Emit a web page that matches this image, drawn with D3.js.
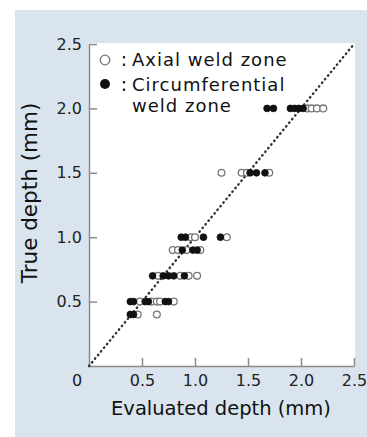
<!DOCTYPE html>
<html>
<head>
<meta charset="utf-8">
<script src="https://cdn.jsdelivr.net/npm/d3@7"></script>
<style>
  html, body { margin: 0; padding: 0; background: #ffffff; }
  svg { display: block; }
  text { font-family: "DejaVu Sans", sans-serif; }
</style>
</head>
<body>
<svg id="chart" width="367" height="437"></svg>
<script>
// ---- data ----
const tickValues = [0.5, 1.0, 1.5, 2.0, 2.5];
const axialEvaluated = [2.06, 2.10, 2.15, 2.21, 1.25, 1.44, 1.49, 1.70, 0.96, 1.00, 1.30, 0.79, 0.84, 0.92, 1.05, 0.65, 0.86, 0.94, 1.02, 0.48, 0.59, 0.64, 0.67, 0.80, 0.46, 0.64];
const axialTrue      = [2.0, 2.0, 2.0, 2.0, 1.5, 1.5, 1.5, 1.5, 1.0, 1.0, 1.0, 0.9, 0.9, 0.9, 0.9, 0.7, 0.7, 0.7, 0.7, 0.5, 0.5, 0.5, 0.5, 0.5, 0.4, 0.4];
const circEvaluated  = [1.68, 1.74, 1.90, 1.94, 1.98, 2.02, 1.52, 1.58, 1.66, 0.87, 0.91, 1.08, 1.24, 0.88, 0.98, 1.02, 0.60, 0.70, 0.75, 0.80, 0.90, 0.39, 0.42, 0.53, 0.56, 0.72, 0.75, 0.39, 0.42];
const circTrue       = [2.0, 2.0, 2.0, 2.0, 2.0, 2.0, 1.5, 1.5, 1.5, 1.0, 1.0, 1.0, 1.0, 0.9, 0.9, 0.9, 0.7, 0.7, 0.7, 0.7, 0.7, 0.5, 0.5, 0.5, 0.5, 0.5, 0.5, 0.4, 0.4];
const legendLabels = ["Axial weld zone", ["Circumferential", "weld zone"]];
const xTitle = "Evaluated depth (mm)";
const yTitle = "True depth (mm)";

const svg = d3.select("#chart");
const W = 367, H = 437;

// background panel
svg.append("rect").attr("x", 15).attr("y", 10).attr("width", W - 15).attr("height", H - 10).attr("fill", "#d9e4ee");

const x = d3.scaleLinear().domain([0, 2.5]).range([89, 354]);
const y = d3.scaleLinear().domain([0, 2.5]).range([366, 44]);

// white plot area
svg.append("rect").attr("x", x(0)).attr("y", y(2.5) - 1).attr("width", 355 - x(0)).attr("height", y(0) - y(2.5) + 1).attr("fill", "#ffffff");

const fmt = d3.format(".1f");
const axisColor = "#8a8a8a";

const gx = svg.append("g").attr("transform", `translate(0,${y(0)})`)
  .call(d3.axisBottom(x).tickValues(tickValues).tickSize(-8).tickSizeOuter(0).tickPadding(9).tickFormat(fmt));
const gy = svg.append("g").attr("transform", `translate(${x(0)},0)`)
  .call(d3.axisLeft(y).tickValues(tickValues).tickSize(-8).tickSizeOuter(0).tickPadding(7).tickFormat(fmt));

[gx, gy].forEach(g => {
  g.select(".domain").attr("stroke", axisColor).attr("stroke-width", 1.5);
  g.selectAll(".tick line").attr("stroke", axisColor).attr("stroke-width", 1.5);
  g.selectAll(".tick text").attr("fill", "#222").attr("font-size", 16).attr("font-family", "DejaVu Sans, sans-serif");
});

// origin label
svg.append("text").attr("x", 77).attr("y", 386).attr("text-anchor", "middle")
  .attr("font-size", 16).attr("fill", "#222").text("0");

// diagonal reference line
svg.append("line")
  .attr("x1", x(0)).attr("y1", y(0)).attr("x2", x(2.5)).attr("y2", y(2.5))
  .attr("stroke", "#333").attr("stroke-width", 2.4).attr("stroke-linecap", "round").attr("stroke-dasharray", "0.5,4.2");

// data points
const axial = axialEvaluated.map((v, i) => [v, axialTrue[i]]);
const circ = circEvaluated.map((v, i) => [v, circTrue[i]]);
const R = 3.4;

svg.append("g").selectAll("circle").data(axial).join("circle")
  .attr("cx", d => x(d[0])).attr("cy", d => y(d[1])).attr("r", R)
  .attr("fill", "#ffffff").attr("stroke", "#777").attr("stroke-width", 1.3);

svg.append("g").selectAll("circle").data(circ).join("circle")
  .attr("cx", d => x(d[0])).attr("cy", d => y(d[1])).attr("r", R)
  .attr("fill", "#111").attr("stroke", "#111").attr("stroke-width", 0.8);

// legend
const lg = svg.append("g");
lg.append("circle").attr("cx", 105).attr("cy", 60).attr("r", 4.8).attr("fill", "#fff").attr("stroke", "#777").attr("stroke-width", 1.3);
lg.append("circle").attr("cx", 105).attr("cy", 84).attr("r", 5).attr("fill", "#111");
lg.append("text").attr("x", 124).attr("y", 66).attr("font-size", 19).attr("text-anchor", "middle").attr("fill", "#111").text(":");
lg.append("text").attr("x", 124).attr("y", 91).attr("font-size", 19).attr("text-anchor", "middle").attr("fill", "#111").text(":");
lg.append("text").attr("x", 132).attr("y", 66).attr("font-size", 18).attr("letter-spacing", 1).attr("fill", "#111").text(legendLabels[0]);
const t2 = lg.append("text").attr("x", 132).attr("y", 91).attr("font-size", 18).attr("letter-spacing", 1).attr("fill", "#111");
t2.append("tspan").attr("x", 132).attr("dy", 0).text(legendLabels[1][0]);
t2.append("tspan").attr("x", 132).attr("dy", 21).text(legendLabels[1][1]);

// axis titles
svg.append("text").attr("x", 221).attr("y", 415).attr("text-anchor", "middle")
  .attr("font-size", 19.5).attr("fill", "#111").text(xTitle);
svg.append("text").attr("transform", "translate(37,193) rotate(-90)").attr("text-anchor", "middle")
  .attr("font-size", 21.5).attr("fill", "#111").text(yTitle);
</script>
</body>
</html>
